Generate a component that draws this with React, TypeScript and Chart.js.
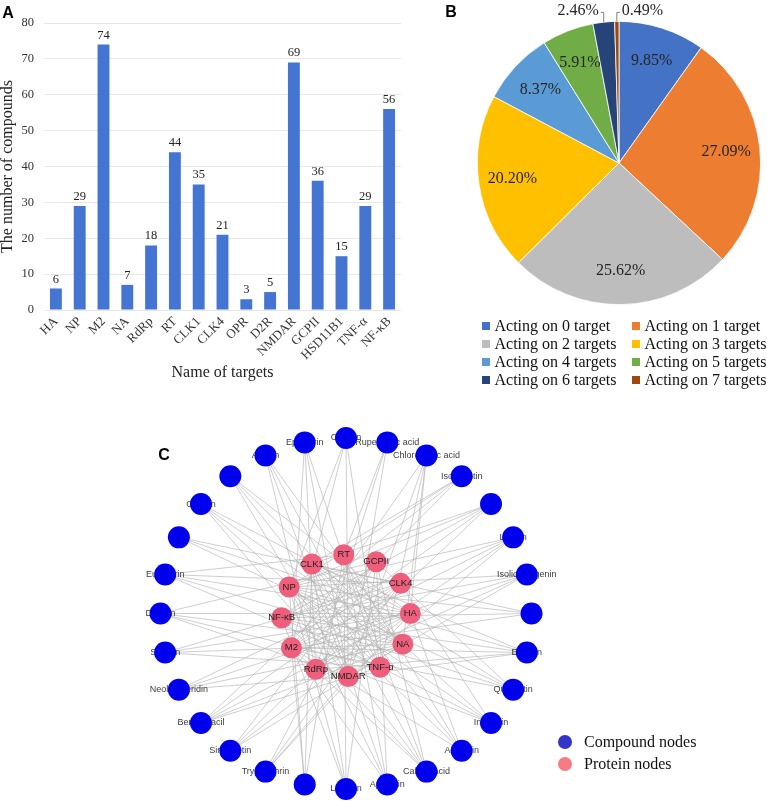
import React, { useEffect, useRef } from "react";
import { Chart, registerables } from "chart.js";

Chart.register(...registerables);

// ---------- Panel A data ----------
const targets = ["HA", "NP", "M2", "NA", "RdRp", "RT", "CLK1", "CLK4", "OPR", "D2R", "NMDAR", "GCPII", "HSD11B1", "TNF-α", "NF-κB"];
const compoundCounts = [6, 29, 74, 7, 18, 44, 35, 21, 3, 5, 69, 36, 15, 29, 56];
const yAxisMin = 0;
const yAxisMax = 80;
const yAxisStep = 10;

// ---------- Panel B data ----------
const pieLabels = [
  "Acting on 0 target",
  "Acting on 1 target",
  "Acting on 2 targets",
  "Acting on 3 targets",
  "Acting on 4 targets",
  "Acting on 5 targets",
  "Acting on 6 targets",
  "Acting on 7 targets",
];
const piePercents = [9.85, 27.09, 25.62, 20.2, 8.37, 5.91, 2.46, 0.49];
const pieColors = ["#4472C4", "#ED7D31", "#BDBDBD", "#FFC000", "#5B9BD5", "#70AD47", "#264478", "#9E480E"];

// ---------- Panel C data ----------
const compoundNames = [
  "Chrysin", "Rupestonic acid", "Chlorogenic acid", "Isoorientin", "DFV", "Linarin", "Isoliquiritigenin",
  "ICG", "Emodin", "Quercetin", "Indirubin", "Acacetin", "Caffeic acid", "Apigenin", "Luteolin", "EKO",
  "Tryptanthrin", "Sinensetin", "Benzouracil", "Neohesperidin", "Sinigrin", "Daidzin", "Eupatorin", "HMF",
  "Cassiin", "Rutin", "Abietin", "Epigoitrin",
];
const proteinNames = ["RT", "GCPII", "CLK4", "HA", "NA", "TNF-α", "NMDAR", "RdRp", "M2", "NF-κB", "NP", "CLK1"];
const compoundTargets: string[][] = [
  ["NP", "M2", "NMDAR", "TNF-α"],
  ["RT", "NMDAR", "RdRp"],
  ["NA", "HA", "NMDAR", "M2", "TNF-α"],
  ["M2", "NP", "CLK1", "NF-κB"],
  ["NF-κB", "NP", "M2", "CLK1", "RdRp"],
  ["NF-κB", "M2", "NP", "RdRp", "NMDAR"],
  ["NF-κB", "M2", "RdRp", "NMDAR", "NP"],
  ["M2", "NF-κB", "NP", "CLK1"],
  ["NF-κB", "M2", "CLK1", "NP", "RdRp", "NMDAR"],
  ["M2", "NF-κB", "CLK1", "NP", "GCPII"],
  ["NF-κB", "CLK1", "CLK4", "M2", "NP"],
  ["CLK1", "NP", "M2", "HA", "RT"],
  ["NP", "CLK1", "M2", "NF-κB", "RT", "GCPII"],
  ["CLK1", "NP", "GCPII", "RT", "M2"],
  ["RT", "CLK1", "NF-κB", "NP", "GCPII"],
  ["RT", "NP", "CLK1", "M2"],
  ["GCPII", "CLK4", "HA", "NMDAR"],
  ["GCPII", "CLK4", "HA", "NA"],
  ["CLK4", "GCPII", "HA", "NA", "TNF-α"],
  ["HA", "NA", "CLK4", "NMDAR"],
  ["HA", "NA", "TNF-α", "CLK4"],
  ["HA", "NA", "GCPII", "TNF-α", "NMDAR"],
  ["HA", "NA", "CLK4", "TNF-α", "RT"],
  ["HA", "CLK4", "NA"],
  ["NA", "TNF-α", "NMDAR", "HA"],
  ["TNF-α", "NMDAR", "NA", "HA"],
  ["NMDAR", "TNF-α", "RdRp", "NA"],
  ["NMDAR", "RdRp", "M2", "TNF-α"],
];
const legendC = ["Compound nodes", "Protein nodes"];

const SERIF = '"Liberation Serif", "Times New Roman", serif';
const SANS = '"Liberation Sans", Arial, sans-serif';

function panelLetter(letter: string, x: number, y: number) {
  return {
    id: "panel" + letter,
    afterDraw(chart: any) {
      const ctx = chart.ctx;
      ctx.save();
      ctx.font = `bold 16px ${SANS}`;
      ctx.fillStyle = "#000";
      ctx.textAlign = "center";
      ctx.textBaseline = "middle";
      ctx.fillText(letter, x, y);
      ctx.restore();
    },
  };
}

const barValuePlugin = {
  id: "barValues",
  afterDatasetsDraw(chart: any) {
    const ctx = chart.ctx;
    const meta = chart.getDatasetMeta(0);
    const vals = chart.data.datasets[0].data;
    ctx.save();
    ctx.font = `12.5px ${SERIF}`;
    ctx.fillStyle = "#222";
    ctx.textAlign = "center";
    ctx.textBaseline = "bottom";
    meta.data.forEach((bar: any, i: number) => {
      ctx.fillText(String(vals[i]), bar.x, bar.y - 3);
    });
    ctx.restore();
  },
};

const pieLabelPlugin = {
  id: "pieLabels",
  afterDatasetsDraw(chart: any) {
    const ctx = chart.ctx;
    const meta = chart.getDatasetMeta(0);
    const vals = chart.data.datasets[0].data as number[];
    ctx.save();
    ctx.font = `16px ${SERIF}`;
    ctx.fillStyle = "#262626";
    ctx.textBaseline = "middle";
    const n = meta.data.length;
    meta.data.forEach((arc: any, i: number) => {
      const { x, y, startAngle, endAngle, outerRadius } = arc.getProps(["x", "y", "startAngle", "endAngle", "outerRadius"], true);
      const mid = (startAngle + endAngle) / 2;
      const txt = vals[i].toFixed(2) + "%";
      if (vals[i] >= 3) {
        const r = outerRadius * 0.76;
        ctx.textAlign = "center";
        ctx.fillText(txt, x + Math.cos(mid) * r, y + Math.sin(mid) * r);
      } else {
        const ex = x + Math.cos(mid) * outerRadius;
        const ey = y + Math.sin(mid) * outerRadius;
        const ty = y - outerRadius - 9;
        const right = i === n - 1;
        ctx.strokeStyle = "#808080";
        ctx.lineWidth = 1;
        ctx.beginPath();
        ctx.moveTo(ex, ey);
        ctx.lineTo(ex, ty);
        ctx.lineTo(ex + (right ? 3 : -3), ty);
        ctx.stroke();
        ctx.textAlign = right ? "left" : "right";
        ctx.fillText(txt, ex + (right ? 5 : -5), ty - 2);
      }
    });
    ctx.restore();
  },
};

const pieLegendPlugin = {
  id: "pieLegend",
  afterDraw(chart: any) {
    const ctx = chart.ctx;
    const labels = chart.data.labels as string[];
    const colors = chart.data.datasets[0].backgroundColor as string[];
    ctx.save();
    ctx.font = `16px ${SERIF}`;
    ctx.fillStyle = "#000";
    ctx.textBaseline = "middle";
    ctx.textAlign = "left";
    labels.forEach((lab, i) => {
      const col = i % 2;
      const row = Math.floor(i / 2);
      const sx = col === 0 ? 82 : 232;
      const cy = 326 + row * 18;
      ctx.fillStyle = colors[i];
      ctx.fillRect(sx, cy - 4, 8, 8);
      ctx.fillStyle = "#111";
      ctx.fillText(lab, sx + 12.5, cy + 1);
    });
    ctx.restore();
  },
};

const networkPlugin = {
  id: "network",
  beforeDatasetsDraw(chart: any) {
    const ctx = chart.ctx;
    const cMeta = chart.getDatasetMeta(0).data;
    const pMeta = chart.getDatasetMeta(1).data;
    ctx.save();
    ctx.strokeStyle = "#b3b3b3";
    ctx.lineWidth = 0.65;
    compoundTargets.forEach((tl, i) => {
      const a = cMeta[i];
      tl.forEach((t) => {
        const j = proteinNames.indexOf(t);
        if (j < 0) return;
        const b = pMeta[j];
        ctx.beginPath();
        ctx.moveTo(a.x, a.y);
        ctx.lineTo(b.x, b.y);
        ctx.stroke();
      });
    });
    ctx.font = `9px ${SANS}`;
    ctx.fillStyle = "#3c3c3c";
    ctx.textAlign = "center";
    ctx.textBaseline = "middle";
    compoundNames.forEach((nm, i) => {
      const a = cMeta[i];
      ctx.fillText(nm, a.x, a.y);
    });
    ctx.restore();
  },
  afterDatasetsDraw(chart: any) {
    const ctx = chart.ctx;
    const pMeta = chart.getDatasetMeta(1).data;
    ctx.save();
    ctx.font = `9.5px ${SANS}`;
    ctx.fillStyle = "#222";
    ctx.textAlign = "center";
    ctx.textBaseline = "middle";
    proteinNames.forEach((nm, j) => {
      const p = pMeta[j];
      ctx.fillText(nm, p.x, p.y);
    });
    // legend
    const legendColors = ["#3434c8", "#f47c82"];
    legendC.forEach((lab, k) => {
      const cy = 342 + k * 22;
      ctx.fillStyle = legendColors[k];
      ctx.beginPath();
      ctx.arc(565, cy, 7, 0, Math.PI * 2);
      ctx.fill();
      ctx.fillStyle = "#111";
      ctx.textAlign = "left";
      ctx.font = `16px ${SERIF}`;
      ctx.fillText(lab, 584, cy + 1);
    });
    ctx.restore();
  },
};

function ChartBox(props: { left: number; top: number; width: number; height: number; make: () => any }) {
  const ref = useRef<HTMLCanvasElement>(null);
  useEffect(() => {
    const chart = new Chart(ref.current as HTMLCanvasElement, props.make());
    return () => chart.destroy();
  }, []);
  return (
    <canvas
      ref={ref}
      width={props.width}
      height={props.height}
      style={{ position: "absolute", left: props.left, top: props.top, width: props.width, height: props.height }}
    />
  );
}

function makeBar() {
  return {
    type: "bar",
    data: {
      labels: targets,
      datasets: [
        {
          data: compoundCounts,
          backgroundColor: "#4575d3",
          barPercentage: 0.5,
          categoryPercentage: 1,
        },
      ],
    },
    options: {
      responsive: false,
      animation: false,
      events: [],
      layout: { padding: { left: 0, right: 9, top: 23, bottom: 14 } },
      plugins: { legend: { display: false }, tooltip: { enabled: false } },
      scales: {
        x: {
          grid: { display: false, drawTicks: false },
          border: { display: false },
          ticks: { font: { family: SERIF, size: 13 }, color: "#333", minRotation: 45, maxRotation: 45, padding: 4, autoSkip: false },
          title: { display: true, text: "Name of targets", font: { family: SERIF, size: 16 }, color: "#222", padding: { top: 4, bottom: 4 } },
          afterFit: (s: any) => {
            s.height = 76;
          },
        },
        y: {
          min: yAxisMin,
          max: yAxisMax,
          ticks: { stepSize: yAxisStep, font: { family: SERIF, size: 12.5 }, color: "#333", padding: 10 },
          grid: { color: "#e8e8e8", drawTicks: false },
          border: { display: false },
          title: { display: true, text: "The number of compounds", font: { family: SERIF, size: 16 }, color: "#222", padding: { top: -2, bottom: 0 } },
          afterFit: (s: any) => {
            s.width = 44;
          },
        },
      },
    },
    plugins: [barValuePlugin, panelLetter("A", 8, 14)],
  };
}

function makePie() {
  return {
    type: "pie",
    data: {
      labels: pieLabels,
      datasets: [{ data: piePercents, backgroundColor: pieColors, borderColor: "#ffffff", borderWidth: 0.8 }],
    },
    options: {
      responsive: false,
      animation: false,
      events: [],
      layout: { padding: { left: 77, right: 6, top: 21, bottom: 95 } },
      plugins: { legend: { display: false }, tooltip: { enabled: false } },
    },
    plugins: [pieLabelPlugin, pieLegendPlugin, panelLetter("B", 51, 13)],
  };
}

function makeNetwork() {
  const n = compoundNames.length;
  const compoundPts = compoundNames.map((_, i) => {
    const a = (i * 2 * Math.PI) / n;
    return { x: Math.sin(a), y: Math.cos(a) };
  });
  const m = proteinNames.length;
  const innerRatio = 0.347;
  const proteinPts = proteinNames.map((_, j) => {
    const a = (j * 2 * Math.PI) / m - (2 * Math.PI) / 180;
    return { x: innerRatio * Math.sin(a), y: innerRatio * Math.cos(a) - 0.012 };
  });
  return {
    type: "scatter",
    data: {
      datasets: [
        { label: legendC[0], data: compoundPts, pointRadius: 11, pointBackgroundColor: "#0000ec", pointBorderWidth: 0, backgroundColor: "#0000ec" },
        { label: legendC[1], data: proteinPts, pointRadius: 10.5, pointBackgroundColor: "#ef5f7c", pointBorderWidth: 0, backgroundColor: "#ef5f7c" },
      ],
    },
    options: {
      responsive: false,
      animation: false,
      events: [],
      layout: { padding: 0, autoPadding: false },
      plugins: { legend: { display: false }, tooltip: { enabled: false } },
      scales: {
        x: { display: false, min: -1.8652, max: 2.2695 },
        y: { display: false, min: -1.0684, max: 1.2165 },
      },
    },
    plugins: [networkPlugin, panelLetter("C", 164, 56)],
  };
}

export default function App() {
  return (
    <div style={{ position: "absolute", left: 0, top: 0, width: 767, height: 801, background: "#fff", overflow: "hidden" }}>
      <ChartBox left={0} top={0} width={410} height={400} make={makeBar} />
      <ChartBox left={400} top={0} width={367} height={400} make={makePie} />
      <ChartBox left={0} top={400} width={767} height={401} make={makeNetwork} />
    </div>
  );
}
